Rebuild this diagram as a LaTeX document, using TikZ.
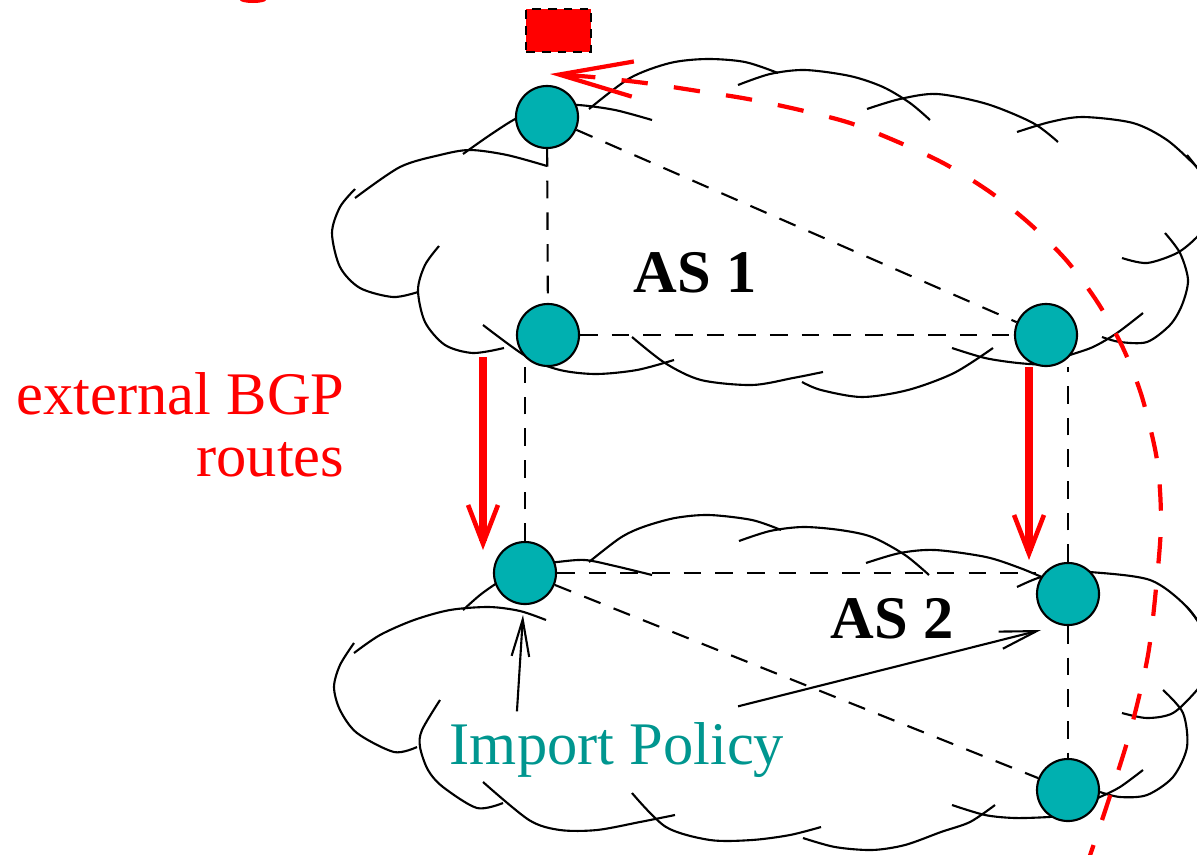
\documentclass[tikz,border=0pt]{standalone}
\usepackage{fontspec}
\setmainfont{Liberation Serif}
\usetikzlibrary{calc, arrows.meta}
\definecolor{router}{HTML}{00B0B0}
\definecolor{policy}{HTML}{00968F}
\definecolor{ebgp}{HTML}{FF0000}

\begin{document}
\begin{tikzpicture}[
    x=0.01cm, y=-0.01cm,
    font=\fontsize{17.2}{17.6}\selectfont,
    cloud_style/.style={draw=black, line width=0.6pt},
    router_style/.style={draw=black, fill=router, circle, line width=0.6pt, minimum size=0.62cm, inner sep=0pt},
    link_style/.style={draw=black, line width=0.6pt, dash pattern=on 5pt off 4pt},
    ebgp_style/.style={draw=ebgp, line width=2.5pt, -{Straight Barb[length=11pt, width=8.5pt, line width=1.3pt]}},
    return_style/.style={draw=ebgp, line width=1.2pt, dash pattern=on 7.5pt off 7.5pt, -{Straight Barb[length=21pt, width=10pt, line width=1.2pt]}},
    policy_style/.style={draw=black, line width=0.6pt, -{Straight Barb[length=10.5pt, width=5pt]}},
    label_style/.style={font=\fontsize{17.2}{17.6}\selectfont\bfseries, inner sep=0pt},
    msg_style/.style={draw=black, fill=ebgp, dash pattern=on 2.5pt off 2pt, line width=0.6pt, minimum width=0.65cm, minimum height=0.43cm, inner sep=0pt}
]
    \useasboundingbox (0,0) rectangle (1197,854);
    \clip (0,0) rectangle (1197,854);

    % --- AS 1 cloud ---
    \draw[cloud_style] plot[smooth] coordinates {(355,189) (340,207) (332,233) (340,267) (360,288) (393,297) (418,292)};
    \draw[cloud_style] plot[smooth] coordinates {(355,198) (400,167) (440,155) (470,150) (507,155) (547,166)};
    \draw[cloud_style] plot[smooth] coordinates {(463,154) (490,135) (517,118) (547,106) (578,105) (615,110) (652,120)};
    \draw[cloud_style] plot[smooth] coordinates {(589,109) (630,78) (670,63) (707,59) (745,62) (778,73)};
    \draw[cloud_style] plot[smooth] coordinates {(738,85) (770,74) (805,70) (850,76) (883,87) (910,103) (930,120)};
    \draw[cloud_style] plot[smooth] coordinates {(867,109) (900,99) (937,94) (987,104) (1033,123) (1058,142)};
    \draw[cloud_style] plot[smooth] coordinates {(1017,132) (1050,122) (1083,117) (1133,123) (1167,140) (1197,167) (1215,185)};
    \draw[cloud_style] plot[smooth] coordinates {(1187,155) (1200,172) (1212,195)};
    \draw[cloud_style] plot[smooth] coordinates {(1122,258) (1147,263) (1177,253) (1197,237) (1215,215)};
    \draw[cloud_style] plot[smooth] coordinates {(1165,233) (1180,253) (1188,280) (1182,305) (1170,325) (1147,342) (1120,342) (1102,337)};
    \draw[cloud_style] plot[smooth] coordinates {(1143,313) (1117,333) (1093,347) (1067,356) (1045,364) (1018,363) (985,358) (952,348)};
    \draw[cloud_style] plot[smooth] coordinates {(993,348) (954,373) (908,390) (862,397) (821,390) (802,382)};
    \draw[cloud_style] plot[smooth] coordinates {(632,337) (665,363) (701,380) (752,385) (793,378) (823,372)};
    \draw[cloud_style] plot[smooth] coordinates {(483,325) (527,357) (560,370) (596,374) (637,370) (674,360)};
    \draw[cloud_style] plot[smooth] coordinates {(439,246) (425,265) (418,290) (425,322) (445,345) (473,353) (504,348)};

    % --- AS 2 cloud ---
    \draw[cloud_style] plot[smooth] coordinates {(354,653) (380,635) (414,620) (450,610) (489,607) (520,611) (546,620)};
    \draw[cloud_style] plot[smooth] coordinates {(463,610) (480,595) (497,583) (525,566) (557,562) (585,560) (615,566) (652,575)};
    \draw[cloud_style] plot[smooth] coordinates {(589,562) (620,538) (643,527) (675,518) (709,515) (752,520) (781,530)};
    \draw[cloud_style] plot[smooth] coordinates {(739,541) (770,531) (803,527) (840,530) (872,537) (905,555) (929,575)};
    \draw[cloud_style] plot[smooth] coordinates {(866,563) (900,553) (935,550) (986,557) (1020,568) (1044,578)};
    \draw[cloud_style] plot[smooth] coordinates {(1017,587) (1038,578) (1065,572) (1090,572) (1150,580) (1187,607) (1210,640)};
    \draw[cloud_style] plot[smooth] coordinates {(1186,606) (1197,620) (1210,645)};
    \draw[cloud_style] plot[smooth] coordinates {(1122,713) (1147,718) (1173,713) (1197,690) (1215,665)};
    \draw[cloud_style] plot[smooth] coordinates {(1163,690) (1183,713) (1187,747) (1173,777) (1147,795) (1120,797) (1100,792)};
    \draw[cloud_style] plot[smooth] coordinates {(1143,770) (1120,787) (1100,797) (1075,808)};
    \draw[cloud_style] plot[smooth] coordinates {(952,805) (985,815) (1015,818) (1049,817) (1068,815)};
    \draw[cloud_style] plot[smooth] coordinates {(995,805) (970,822) (941,832) (905,845) (872,850) (835,847) (803,838)};
    \draw[cloud_style] plot[smooth] coordinates {(632,793) (666,827) (710,840) (752,840) (790,835) (821,827)};
    \draw[cloud_style] plot[smooth] coordinates {(483,782) (529,820) (560,830) (597,830) (640,822) (675,815)};
    \draw[cloud_style] plot[smooth] coordinates {(440,700) (422,730) (420,747) (428,770) (443,787) (477,808) (503,803)};
    \draw[cloud_style] plot[smooth] coordinates {(354,643) (340,665) (334,687) (340,710) (357,733) (394,752) (417,747)};

    % --- Routers ---
    \node[router_style] (as1_top) at (547,117) {};
    \node[router_style] (as1_left) at (548,335) {};
    \node[router_style] (as1_right) at (1046,335) {};
    \node[router_style] (as2_left) at (525,573) {};
    \node[router_style] (as2_right) at (1068,594) {};
    \node[router_style] (as2_bottom) at (1068,790) {};

    % --- Sessions ---
    \draw[link_style] (as1_top) -- (as1_left);
    \draw[link_style] (as1_top) -- (as1_right);
    \draw[link_style] (as1_left) -- (as1_right);
    \draw[link_style] (as2_left) -- (as2_left |- as1_left.south);
    \draw[link_style] (as2_right) -- (as2_right |- as1_right.south);
    \draw[link_style] (as2_left) -- (as2_left -| as2_right.west);
    \draw[link_style] (as2_left) -- (as2_bottom);
    \draw[link_style] (as2_right) -- (as2_bottom);

    % --- Labels ---
    \node[label_style, anchor=base] (as1_label) at (695,292) {AS 1};
    \node[label_style, anchor=base] (as2_label) at (892,638) {AS 2};
    \node[text=policy, anchor=base, inner sep=0pt] (ip_text) at (617,764) {Import Policy};
    \node[text=ebgp, anchor=east, align=right, inner sep=0pt] (ebgp_text) at (345,425) {external BGP\\routes};

    % red speck cut off by the top edge
    \fill[ebgp] (253,0) ellipse (13 and 3);

    % --- Message box and its way back ---
    \node[msg_style] (msg_box) at (558.5,30.5) {};
    \coordinate (ret_src) at (1085,870);
    \coordinate (ret_end) at (550,74);
    \draw[return_style] plot[smooth] coordinates {(ret_src) (1107,805) (1130,732) (1148,655) (1157,578) (1161,520) (1157,460) (1142,397) (1123,348) (1098,303) (1067,261) (1030,224) (990,192) (945,164) (898,142) (850,123) (800,110) (748,99) (698,91) (645,83) (592,77) (ret_end)};

    % --- eBGP arrows ---
    \draw[ebgp_style] ($(as1_left)+(-65,22)$) -- ($(as2_left)+(-42,-23)$);
    \draw[ebgp_style] ($(as1_right)+(-17,32)$) -- ($(as2_right)+(-39,-34)$);

    % --- Import policy pointers ---
    \draw[policy_style] ([xshift=-1cm, yshift=0.1cm]ip_text.north) -- ($(as2_left)+(-2,42)$);
    \draw[policy_style] ([xshift=1.21cm, yshift=0.15cm]ip_text.north) -- ($(as2_right)+(-27,36)$);

\end{tikzpicture}
\end{document}
